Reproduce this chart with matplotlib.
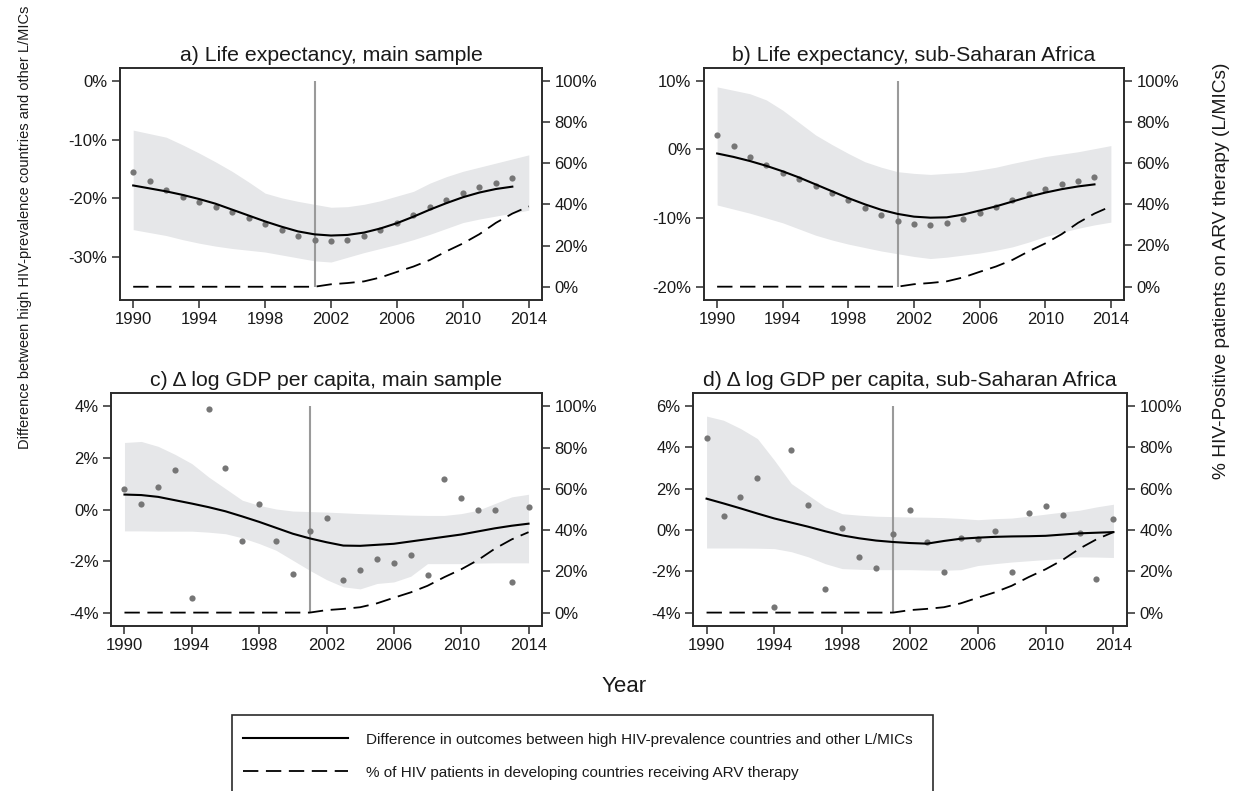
import matplotlib
matplotlib.use('Agg')
import matplotlib.pyplot as plt
from matplotlib.patches import Rectangle
from matplotlib import font_manager

# font choices
names = {f.name for f in font_manager.fontManager.ttflist}
main_font = 'Liberation Sans' if 'Liberation Sans' in names else 'DejaVu Sans'
plt.rcParams['font.family'] = [main_font, 'DejaVu Sans']

years = list(range(1990, 2015))

# ARV coverage (% of HIV patients on ARV therapy), right axis
arv = [0, 0, 0, 0, 0, 0, 0, 0, 0, 0, 0, 0,
       1.2, 1.8, 2.6, 4.5, 7.2, 9.8, 13.0, 17.2, 21.0, 25.5, 31.0, 35.5, 39.0]

# a) life expectancy, main sample (dots and fit to 2013, band to 2014)
a_dots = [-15.45, -16.98, -18.5, -19.7, -20.6, -21.5, -22.3, -23.3, -24.4, -25.4, -26.45, -27.1,
          -27.2, -27.1, -26.45, -25.4, -24.25, -22.8, -21.5, -20.25, -19.1, -18.1, -17.3, -16.6]
a_fit = [-17.8, -18.3, -18.8, -19.4, -20.1, -20.9, -21.9, -22.9, -23.9, -24.8, -25.6, -26.1,
         -26.3, -26.2, -25.8, -25.1, -24.2, -23.1, -21.9, -20.8, -19.8, -19.0, -18.4, -18.0]
a_hi = [-8.4, -9.0, -9.6, -10.9, -12.3, -13.8, -15.4, -17.2, -19.1, -19.9, -20.5, -21.0, -21.5,
        -21.4, -21.0, -20.4, -19.6, -18.8, -17.4, -16.3, -15.4, -14.7, -14.0, -13.3, -12.6]
a_lo = [-25.3, -25.8, -26.3, -27.0, -27.6, -28.1, -28.5, -28.8, -29.1, -29.6, -30.1, -30.6, -30.8,
        -30.0, -29.2, -28.5, -27.8, -27.0, -26.1, -25.1, -24.1, -23.5, -23.0, -22.5, -22.0]

# b) life expectancy, sub-Saharan Africa
b_dots = [2.04, 0.49, -1.07, -2.28, -3.45, -4.37, -5.29, -6.31, -7.38, -8.59, -9.56, -10.44,
          -10.87, -10.97, -10.68, -10.1, -9.32, -8.45, -7.43, -6.55, -5.78, -5.1, -4.56, -4.03]
b_fit = [-0.6, -1.1, -1.7, -2.4, -3.2, -4.1, -5.1, -6.1, -7.1, -8.0, -8.8, -9.4,
         -9.8, -9.95, -9.9, -9.5, -8.9, -8.3, -7.6, -6.9, -6.3, -5.8, -5.4, -5.1]
b_hi = [9.1, 8.6, 8.1, 7.2, 5.7, 3.9, 2.1, 0.7, -0.6, -1.8, -2.6, -3.25, -3.5,
        -3.65, -3.5, -3.35, -3.0, -2.6, -2.05, -1.55, -1.05, -0.7, -0.35, 0.1, 0.55]
b_lo = [-8.1, -8.7, -9.3, -10.0, -10.7, -11.6, -12.5, -13.2, -13.8, -14.3, -14.8, -15.2, -15.6,
        -15.9, -15.7, -15.4, -15.1, -14.7, -14.2, -13.5, -12.7, -12.1, -11.5, -11.0, -10.6]

# c) delta log GDP per capita, main sample
c_dots = [0.81, 0.2, 0.86, 1.52, -3.42, 3.91, 1.6, -1.23, 0.2, -1.23, -2.49, -0.85, -0.33,
          -2.74, -2.34, -1.92, -2.08, -1.78, -2.54, 1.17, 0.45, 0.0, 0.0, -2.82, 0.08]
c_fit = [0.58, 0.56, 0.49, 0.36, 0.23, 0.09, -0.07, -0.27, -0.48, -0.71, -0.94, -1.12, -1.27,
         -1.40, -1.41, -1.37, -1.33, -1.24, -1.15, -1.06, -0.97, -0.85, -0.73, -0.63, -0.55]
c_hi = [2.6, 2.64, 2.45, 2.14, 1.78, 1.26, 0.81, 0.36, 0.16, 0.02, -0.06, -0.08, -0.1,
        -0.13, -0.16, -0.18, -0.2, -0.22, -0.23, -0.23, -0.16, -0.03, 0.23, 0.49, 0.59]
c_lo = [-0.83, -0.83, -0.84, -0.84, -0.84, -0.88, -0.94, -1.1, -1.32, -1.58, -1.97, -2.36, -2.72,
        -3.0, -3.08, -2.87, -2.81, -2.59, -2.1, -2.1, -2.1, -2.08, -2.07, -2.07, -2.07]

# d) delta log GDP per capita, sub-Saharan Africa
d_dots = [4.45, 0.68, 1.62, 2.51, -3.71, 3.9, 1.21, -2.85, 0.11, -1.29, -1.86, -0.21, 0.99,
          -0.58, -2.01, -0.4, -0.45, -0.06, -2.01, 0.82, 1.15, 0.74, -0.16, -2.37, 0.52]
d_fit = [1.52, 1.29, 1.05, 0.80, 0.56, 0.36, 0.16, -0.06, -0.26, -0.40, -0.51, -0.58, -0.63,
         -0.66, -0.53, -0.42, -0.37, -0.33, -0.31, -0.30, -0.28, -0.22, -0.16, -0.13, -0.1]
d_hi = [5.52, 5.32, 4.92, 4.43, 3.38, 2.25, 1.69, 1.12, 0.79, 0.72, 0.67, 0.65, 0.63,
        0.62, 0.6, 0.56, 0.5, 0.55, 0.58, 0.67, 0.77, 0.87, 0.96, 1.12, 1.25]
d_lo = [-0.87, -0.87, -0.87, -0.88, -0.9, -1.05, -1.3, -1.63, -1.87, -1.9, -1.92, -1.92, -1.92,
        -1.94, -1.95, -1.92, -1.72, -1.63, -1.55, -1.49, -1.43, -1.37, -1.3, -1.31, -1.33]

x_ticks = [1990, 1994, 1998, 2002, 2006, 2010, 2014]
right_ticks = [0, 20, 40, 60, 80, 100]

panels = [
    dict(title='a) Life expectancy, main sample', dots=a_dots, fit=a_fit, hi=a_hi, lo=a_lo,
         ticks=[0, -10, -20, -30], span=(-35, 0), ylim=(-37.25, 2.15),
         rect=[120, 68, 542, 300]),
    dict(title='b) Life expectancy, sub-Saharan Africa', dots=b_dots, fit=b_fit, hi=b_hi, lo=b_lo,
         ticks=[10, 0, -10, -20], span=(-20, 10), ylim=(-21.94, 11.85),
         rect=[704, 68, 1124, 300]),
    dict(title='c) \u0394 log GDP per capita, main sample', dots=c_dots, fit=c_fit, hi=c_hi, lo=c_lo,
         ticks=[4, 2, 0, -2, -4], span=(-4, 4), ylim=(-4.52, 4.52),
         rect=[111, 393, 542, 626]),
    dict(title='d) \u0394 log GDP per capita, sub-Saharan Africa', dots=d_dots, fit=d_fit, hi=d_hi, lo=d_lo,
         ticks=[6, 4, 2, 0, -2, -4], span=(-4, 6), ylim=(-4.65, 6.64),
         rect=[693, 393, 1127, 626]),
]

W, H = 1240, 791
fig = plt.figure(figsize=(W / 100, H / 100), dpi=100)

text_col = '#1a1a1a'
spine_col = '#2b2b2b'
handles = None

for p in panels:
    x0, y0, x1, y1 = p['rect']
    ax = fig.add_axes([x0 / W, 1 - y1 / H, (x1 - x0) / W, (y1 - y0) / H])
    ax2 = ax.twinx()

    n = len(p['dots'])
    m = len(p['fit'])
    ax.fill_between(years, p['lo'], p['hi'], color='#e6e7e9', lw=0, zorder=1)
    ax.vlines(2001, p['span'][0], p['span'][1], color='#9a9a9a', lw=1.5, zorder=2)
    ax.scatter(years[:n], p['dots'], s=20, color='#767676', lw=0, zorder=3)
    fit_line, = ax.plot(years[:m], p['fit'], color='black', lw=1.5, zorder=4)
    arv_line, = ax2.plot(years, arv, color='black', lw=1.3, dashes=(8.5, 4.2))
    handles = [fit_line, arv_line]

    ax.set_xlim(1989.2, 2014.8)
    ax.set_ylim(*p['ylim'])
    lo, hi = p['span']
    ax2.set_ylim((p['ylim'][0] - lo) / (hi - lo) * 100, (p['ylim'][1] - lo) / (hi - lo) * 100)

    ax.set_xticks(x_ticks)
    ax.set_yticks(p['ticks'])
    ax.set_yticklabels([f'{t}%' for t in p['ticks']])
    ax2.set_yticks(right_ticks)
    ax2.set_yticklabels([f'{t}%' for t in right_ticks])

    for a in (ax, ax2):
        for s in a.spines.values():
            s.set_color(spine_col)
            s.set_linewidth(1.2)
        a.tick_params(length=6, width=1.1, color=spine_col, labelsize=12,
                      labelcolor=text_col, pad=3)
    ax.set_title(p['title'], fontsize=15.3, color=text_col, pad=5)

fig.text(25 / W, 1 - 227 / H, 'Difference between high HIV-prevalence countries and other L/MICs',
         rotation=90, ha='center', va='center', fontsize=10.5, color=text_col)
fig.text(1222 / W, 1 - 271 / H, '% HIV-Positive patients on ARV therapy (L/MICs)',
         rotation=90, ha='center', va='center', fontsize=13.8, color=text_col)
fig.text(624 / W, 1 - 687 / H, 'Year', ha='center', va='center', fontsize=16, color=text_col)

# legend box runs past the bottom edge, as in the original
fig.patches.append(Rectangle((232 / W, -0.05), 701 / W, 0.05 + 1 - 715 / H,
                             transform=fig.transFigure, fill=False, lw=1.2,
                             edgecolor=spine_col))
leg = fig.legend(handles,
                 ['Difference in outcomes between high HIV-prevalence countries and other L/MICs',
                  '% of HIV patients in developing countries receiving ARV therapy'],
                 loc='upper left', bbox_to_anchor=(232 / W, 1 - 722 / H),
                 fontsize=11, handlelength=6.9, handletextpad=1.15,
                 labelspacing=1.25, borderpad=0.7, borderaxespad=0, frameon=False)
for t in leg.get_texts():
    t.set_color(text_col)

fig.savefig('out.png', dpi=100)
